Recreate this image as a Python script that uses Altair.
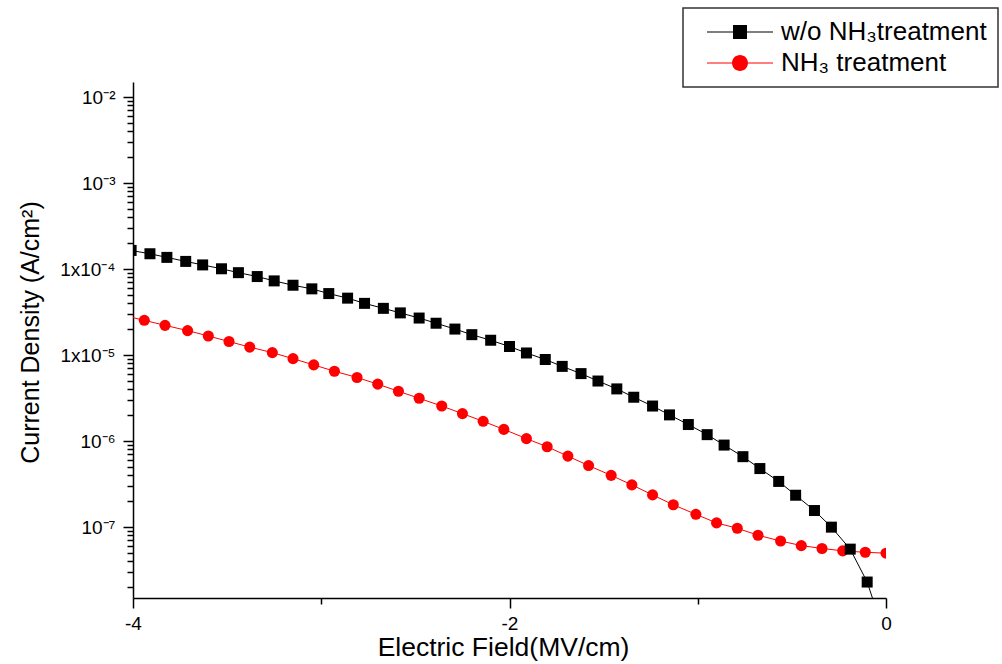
import altair as alt
import pandas as pd

SERIES = ["w/o NH₃treatment", "NH₃ treatment"]
COLORS = ["#000000", "#ff0000"]

# Untreated sample: electric field (MV/cm) and leakage current density (A/cm^2)
field_untreated = [
    -4.01, -3.91, -3.82, -3.72, -3.63, -3.53, -3.44, -3.34, -3.25, -3.15,
    -3.05, -2.96, -2.86, -2.77, -2.67, -2.58, -2.48, -2.39, -2.29, -2.20,
    -2.10, -2.00, -1.91, -1.81, -1.72, -1.62, -1.53, -1.43, -1.34, -1.24,
    -1.15, -1.05, -0.95, -0.86, -0.76, -0.67, -0.57, -0.48, -0.38, -0.29,
    -0.19, -0.10, 0.00,
]
density_untreated = [
    1.65e-4, 1.51e-4, 1.37e-4, 1.23e-4, 1.12e-4, 1.01e-4, 9.1e-5, 8.2e-5, 7.3e-5, 6.5e-5,
    5.9e-5, 5.2e-5, 4.6e-5, 4.0e-5, 3.5e-5, 3.1e-5, 2.7e-5, 2.35e-5, 2.01e-5, 1.73e-5,
    1.49e-5, 1.26e-5, 1.06e-5, 8.9e-6, 7.4e-6, 6.1e-6, 5.0e-6, 4.05e-6, 3.24e-6, 2.56e-6,
    2.02e-6, 1.56e-6, 1.19e-6, 9.0e-7, 6.6e-7, 4.8e-7, 3.4e-7, 2.35e-7, 1.56e-7, 1.0e-7,
    5.55e-8, 2.3e-8, 5.0e-9,
]

# NH3-treated sample
field_treated = [
    -4.05, -3.94, -3.83, -3.71, -3.60, -3.49, -3.38, -3.26, -3.15, -3.04,
    -2.93, -2.81, -2.70, -2.59, -2.48, -2.36, -2.25, -2.14, -2.03, -1.91,
    -1.80, -1.69, -1.58, -1.46, -1.35, -1.24, -1.13, -1.01, -0.90, -0.79,
    -0.68, -0.56, -0.45, -0.34, -0.23, -0.11, 0.00,
]
density_treated = [
    2.9e-5, 2.54e-5, 2.22e-5, 1.93e-5, 1.67e-5, 1.44e-5, 1.24e-5, 1.07e-5, 9.1e-6, 7.7e-6,
    6.5e-6, 5.5e-6, 4.6e-6, 3.8e-6, 3.15e-6, 2.56e-6, 2.09e-6, 1.70e-6, 1.37e-6, 1.07e-6,
    8.6e-7, 6.7e-7, 5.2e-7, 4.0e-7, 3.1e-7, 2.37e-7, 1.82e-7, 1.41e-7, 1.12e-7, 9.7e-8,
    8.05e-8, 6.9e-8, 6.1e-8, 5.65e-8, 5.3e-8, 5.1e-8, 4.98e-8,
]

X_DOMAIN = [-4, 0]
Y_DOMAIN = [1.5e-8, 1.5e-2]
X_TICKS = [-4, -3, -2, -1, 0]
Y_LABELS = {-2: "10⁻²", -3: "10⁻³", -4: "1x10⁻⁴", -5: "1x10⁻⁵", -6: "10⁻⁶", -7: "10⁻⁷"}

FONT = "Liberation Sans"

df_u = pd.DataFrame({"field": field_untreated, "density": density_untreated, "sample": SERIES[0]})
df_t = pd.DataFrame({"field": field_treated, "density": density_treated, "sample": SERIES[1]})
df_legend = pd.concat([df_u.iloc[[10]], df_t.iloc[[10]]])

# log-axis ticks: every integer multiple inside each decade
y_ticks = [m * 10.0 ** d for d in range(-8, -1) for m in range(1, 10)
           if Y_DOMAIN[0] <= m * 10.0 ** d <= Y_DOMAIN[1]]
log10 = "log(datum.value)/LN10"
is_decade = f"abs({log10} - round({log10})) < 1e-6"
label_expr = "''"
for e, txt in Y_LABELS.items():
    label_expr = f"round({log10}) == {e} ? '{txt}' : ({label_expr})"
label_expr = f"{is_decade} ? ({label_expr}) : ''"

x_enc = alt.X(
    "field:Q",
    scale=alt.Scale(domain=X_DOMAIN, nice=False, zero=False),
    axis=alt.Axis(
        values=X_TICKS,
        labelExpr="datum.value % 2 == 0 ? '' + datum.value : ''",
        tickSize={"condition": {"test": "datum.value % 2 == 0", "value": 10}, "value": 6},
        labelFont=FONT, labelFontSize=19, labelColor="black", labelPadding=6,
        labelFlush=False, labelOverlap=False,
        domainColor="black", domainWidth=1.5, tickColor="black", tickWidth=1.5,
        grid=False,
        title="Electric Field(MV/cm)", titleFont=FONT, titleFontSize=26.5,
        titleFontWeight="normal", titleColor="black", titlePadding=1, titleX=370,
    ),
)
y_enc = alt.Y(
    "density:Q",
    scale=alt.Scale(type="log", domain=Y_DOMAIN, nice=False),
    axis=alt.Axis(
        values=y_ticks,
        labelExpr=label_expr,
        tickSize={"condition": {"test": is_decade, "value": 10}, "value": 6},
        labelFont=FONT, labelFontSize=19, labelColor="black", labelPadding=8,
        labelFlush=False, labelOverlap=False, labelBound=False,
        domainColor="black", domainWidth=1.5, tickColor="black", tickWidth=1.5,
        grid=False,
        title="Current Density (A/cm²)", titleFont=FONT, titleFontSize=25,
        titleFontWeight="normal", titleColor="black", titlePadding=16, titleY=250,
    ),
)

def series_layers(df, color, shape, size):
    base = alt.Chart(df).encode(x=x_enc, y=y_enc)
    line = base.mark_line(color=color, strokeWidth=1, clip=True)
    pts = base.mark_point(shape=shape, filled=True, color=color, size=size,
                          opacity=1, strokeWidth=0, clip=True)
    return [line, pts]

# legend glyphs: a line segment with the marker in its middle (1 unit = 8 px)
SQUARE_KEY = ("M-4.125,-0.075H-0.875V0.075H-4.125Z"
              "M0.875,-0.075H4.125V0.075H0.875Z"
              "M-0.875,-0.875H0.875V0.875H-0.875Z")
CIRCLE_KEY = ("M-4.125,-0.075H-1V0.075H-4.125Z"
              "M1,-0.075H4.125V0.075H1Z"
              "M-1,0A1,1 0 1,1 1,0A1,1 0 1,1 -1,0Z")

legend = alt.Legend(
    orient="none", legendX=550, legendY=-74, title=None,
    padding=11, strokeColor="#333333", fillColor="white", cornerRadius=0,
    labelFont=FONT, labelFontSize=26, labelColor="black",
    symbolOffset=33, labelOffset=28,
    labelLimit=400, symbolSize=256, symbolOpacity=1, symbolStrokeWidth=0,
    rowPadding=5,
)
key_layer = alt.Chart(df_legend).mark_point(filled=True, opacity=0).encode(
    x=x_enc, y=y_enc,
    color=alt.Color("sample:N", scale=alt.Scale(domain=SERIES, range=COLORS), legend=legend),
    shape=alt.Shape("sample:N", scale=alt.Scale(domain=SERIES, range=[SQUARE_KEY, CIRCLE_KEY]),
                    legend=legend),
)

layers = (series_layers(df_t, "#ff0000", "circle", 123)
          + series_layers(df_u, "#000000", "square", 121)
          + [key_layer])

chart = alt.layer(*layers).properties(
    width=753, height=516,
    autosize=alt.AutoSizeParams(type="none"),
    padding={"left": 133, "top": 82, "right": 116, "bottom": 66},
    background="white",
).configure_view(stroke=None).configure_legend(strokeWidth=1.5)

chart.save("out.html", embed_options={"renderer": "svg", "actions": False})
